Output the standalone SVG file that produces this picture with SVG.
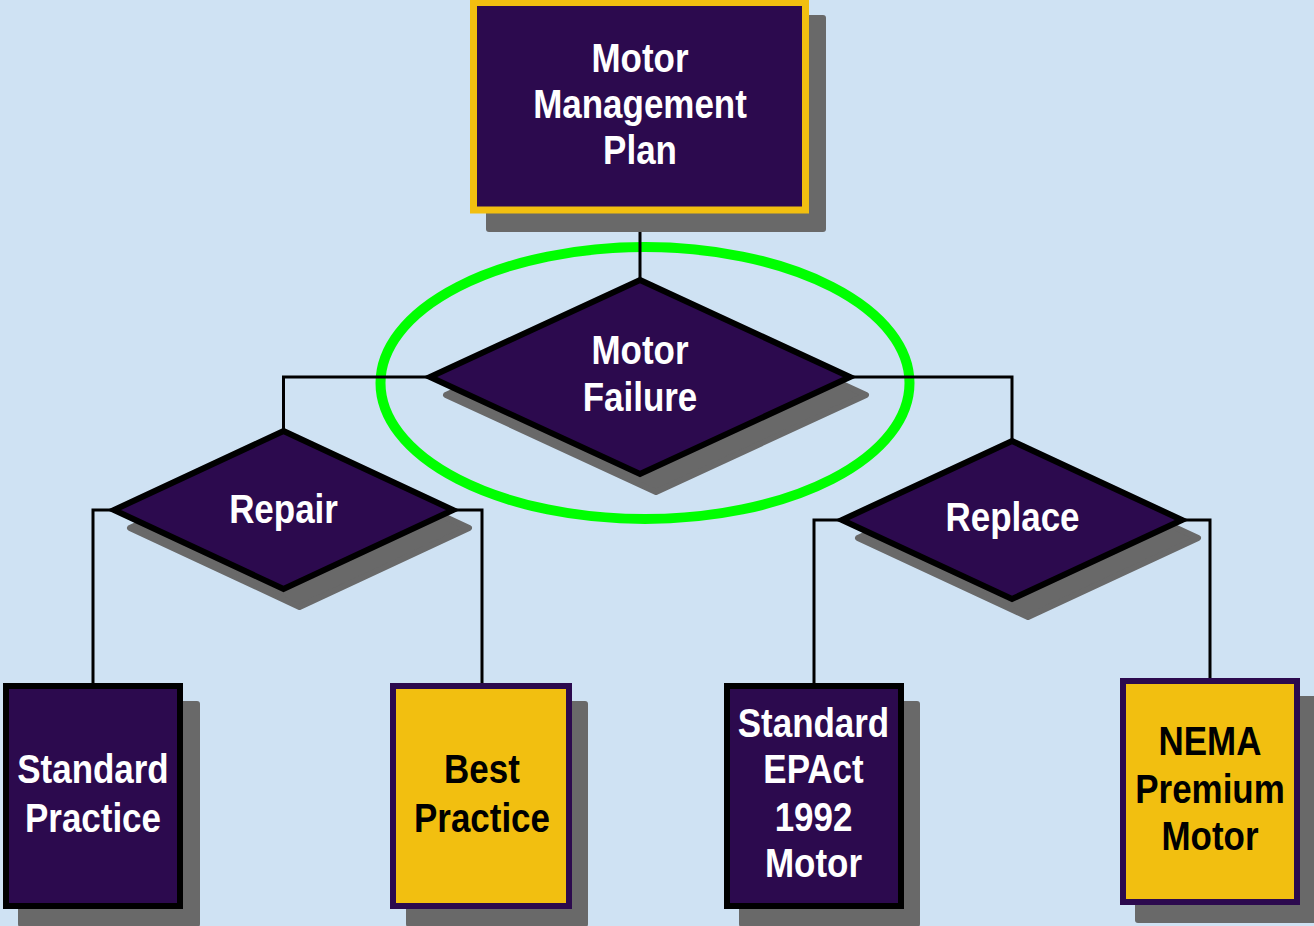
<svg xmlns="http://www.w3.org/2000/svg" width="1314" height="926" viewBox="0 0 1314 926">
<style>
.bg{fill:#CFE2F3}
.sh{fill:#696969}
.dsh{fill:#696969;stroke:#696969;stroke-width:6;stroke-linejoin:round}
.pur{fill:#2C0A4E}
.dia{fill:#2C0A4E;stroke:#000;stroke-width:6;stroke-linejoin:miter;stroke-miterlimit:10}
.boxk{fill:#2C0A4E;stroke:#000;stroke-width:6}
.boxy{fill:#F2BF10;stroke:#2C0A4E;stroke-width:6}
.top{fill:#2C0A4E;stroke:#F2BF10;stroke-width:7}
.con{fill:none;stroke:#000;stroke-width:3}
.lbl{font-family:"Liberation Sans",Arial,sans-serif;font-weight:bold;font-size:40px;text-anchor:middle;transform-box:fill-box;transform-origin:center;transform:scaleX(0.874)}
.w{fill:#fff}
.k{fill:#000}
</style>
<rect class="bg" x="0" y="0" width="1314" height="926"/>
<ellipse cx="645" cy="383" rx="264.5" ry="136" fill="none" stroke="#00FF00" stroke-width="10"/>
<g id="connectors">
<path class="con" d="M640,213 V280"/>
<path class="con" d="M430,377 H283.5 V431"/>
<path class="con" d="M850,377 H1012 V441"/>
<path class="con" d="M114,510 H93 V686"/>
<path class="con" d="M453,510 H482 V686"/>
<path class="con" d="M842,520 H814 V686"/>
<path class="con" d="M1182,520 H1210 V681"/>
</g>
<g id="plan">
<rect class="sh" x="486" y="15" width="340" height="217" rx="3"/>
<rect class="top" x="473.5" y="2.5" width="332" height="207.5"/>
<text class="lbl w"><tspan x="640" y="72">Motor</tspan><tspan x="640" y="118">Management</tspan><tspan x="640" y="164">Plan</tspan></text>
</g>
<g id="failure">
<path class="dsh" d="M656,298 L866,395 L656,492 L446,395 Z"/>
<path class="dia" d="M640,280 L850,377 L640,474 L430,377 Z"/>
<text class="lbl w"><tspan x="640" y="364">Motor</tspan><tspan x="640" y="411.5">Failure</tspan></text>
</g>
<g id="repair">
<path class="dsh" d="M299.5,449 L469,528 L299.5,607 L130,528 Z"/>
<path class="dia" d="M283.5,431 L453,510 L283.5,589 L114,510 Z"/>
<text class="lbl w" x="283.5" y="523">Repair</text>
</g>
<g id="replace">
<path class="dsh" d="M1028,459 L1198,538 L1028,617 L858,538 Z"/>
<path class="dia" d="M1012,441 L1182,520 L1012,599 L842,520 Z"/>
<text class="lbl w" x="1012.5" y="531">Replace</text>
</g>
<g id="standard-practice">
<rect class="sh" x="18" y="701" width="182" height="226" rx="3"/>
<rect class="boxk" x="6" y="686" width="174" height="220"/>
<text class="lbl w"><tspan x="93" y="783">Standard</tspan><tspan x="93" y="832">Practice</tspan></text>
</g>
<g id="best-practice">
<rect class="sh" x="406" y="701" width="182" height="226" rx="3"/>
<rect class="boxy" x="393" y="686" width="176" height="220"/>
<text class="lbl k"><tspan x="482" y="783">Best</tspan><tspan x="482" y="832">Practice</tspan></text>
</g>
<g id="epact">
<rect class="sh" x="739" y="701" width="181" height="226" rx="3"/>
<rect class="boxk" x="727" y="686" width="174" height="220"/>
<text class="lbl w"><tspan x="813.5" y="737">Standard</tspan><tspan x="813.5" y="783">EPAct</tspan><tspan x="813.5" y="831">1992</tspan><tspan x="813.5" y="877">Motor</tspan></text>
</g>
<g id="nema">
<rect class="sh" x="1135" y="696" width="190" height="227" rx="3"/>
<rect class="boxy" x="1123" y="681" width="174" height="221"/>
<text class="lbl k"><tspan x="1210" y="755">NEMA</tspan><tspan x="1210" y="803">Premium</tspan><tspan x="1210" y="850">Motor</tspan></text>
</g>
</svg>
